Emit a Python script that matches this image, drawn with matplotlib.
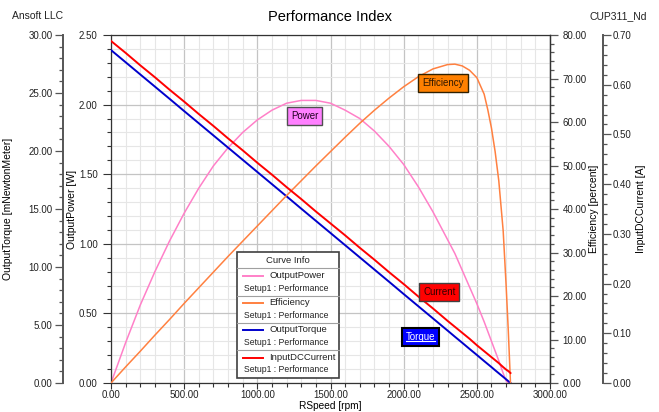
import matplotlib
matplotlib.use('Agg')
import matplotlib.pyplot as plt
from matplotlib.ticker import MultipleLocator, FormatStrFormatter
from matplotlib.patches import Rectangle
from matplotlib.lines import Line2D
from matplotlib.transforms import IdentityTransform

plt.rcParams['font.family'] = ['Liberation Sans', 'DejaVu Sans']
plt.rcParams['font.size'] = 7

# Motor sweep, speed in rpm
rpm = [0, 100, 200, 300, 400, 500, 600, 700, 800, 900, 1000, 1100, 1200,
       1300, 1400, 1500, 1600, 1700, 1800, 1900, 2000, 2100, 2200, 2300,
       2350, 2400, 2450, 2500, 2550, 2575, 2600, 2625, 2650, 2680, 2700,
       2715, 2730]
output_torque = [28.70, 27.65, 26.60, 25.55, 24.50, 23.44, 22.39, 21.34, 20.29,
                 19.24, 18.19, 17.14, 16.09, 15.03, 13.98, 12.93, 11.88, 10.83,
                 9.78, 8.73, 7.67, 6.62, 5.57, 4.52, 3.99, 3.47, 2.94, 2.42,
                 1.89, 1.63, 1.37, 1.10, 0.84, 0.53, 0.32, 0.16, 0.00]
output_power = [0.00, 0.29, 0.56, 0.80, 1.02, 1.22, 1.40, 1.56, 1.69, 1.80,
                1.89, 1.96, 2.01, 2.03, 2.03, 2.01, 1.96, 1.90, 1.81, 1.70,
                1.57, 1.41, 1.23, 1.03, 0.93, 0.81, 0.69, 0.57, 0.44, 0.37,
                0.30, 0.23, 0.16, 0.07, 0.015, 0.00, 0.00]
efficiency = [0.0, 3.7, 7.3, 11.0, 14.6, 18.3, 21.9, 25.5, 29.1, 32.6, 36.1,
              39.6, 43.1, 46.5, 49.9, 53.2, 56.5, 59.7, 62.7, 65.5, 68.1, 70.4,
              72.2, 73.2, 73.3, 72.9, 71.9, 70.2, 66.4, 62.8, 58.6, 53.2, 46.5,
              35.0, 22.5, 12.0, 0.0]
input_current = [0.688, 0.664, 0.639, 0.615, 0.590, 0.566, 0.541, 0.517, 0.492,
                 0.468, 0.443, 0.419, 0.394, 0.370, 0.345, 0.321, 0.297, 0.272,
                 0.248, 0.223, 0.199, 0.174, 0.150, 0.125, 0.113, 0.101, 0.089,
                 0.076, 0.064, 0.058, 0.052, 0.046, 0.040, 0.032, 0.027, 0.024,
                 0.020]

curve_names = ['OutputPower', 'Efficiency', 'OutputTorque', 'InputDCCurrent']
curve_source = 'Setup1 : Performance'

PINK = '#ff80c8'
ORANGE = '#ff8040'
BLUE = '#0000cc'
RED = '#ff0000'
FRAME = '#333333'

W, H = 659, 412
fig = plt.figure(figsize=(W / 100, H / 100), dpi=100)
ax = fig.add_axes([111 / W, 1 - 383 / H, 439 / W, 348 / H])


def ax_frac(px, py):
    """pixel position on the canvas -> axes fraction of the plot area"""
    return (px - 111) / 439, (383 - py) / 348


# main axis: speed vs output power
ax.set_xlim(0, 3000)
ax.set_ylim(0, 2.5)
ax.xaxis.set_major_locator(MultipleLocator(500))
ax.xaxis.set_minor_locator(MultipleLocator(100))
ax.yaxis.set_major_locator(MultipleLocator(0.5))
ax.yaxis.set_minor_locator(MultipleLocator(0.1))
ax.xaxis.set_major_formatter(FormatStrFormatter('%.2f'))
ax.yaxis.set_major_formatter(FormatStrFormatter('%.2f'))
ax.grid(which='major', color='#c4c4c4', lw=0.9)
ax.grid(which='minor', color='#e6e6e6', lw=0.8)
ax.set_axisbelow(True)
ax.tick_params(which='both', direction='out', color=FRAME, width=0.8,
               labelcolor='#222222', labelsize=7)
ax.tick_params(which='major', length=5.5)
ax.tick_params(which='minor', length=3)
ax.tick_params(axis='y', pad=4)
ax.tick_params(axis='x', which='major', length=4.5, pad=0.3)
for s in ax.spines.values():
    s.set_color(FRAME)
    s.set_linewidth(0.9)

# torque axis, offset to the far left
ax_t = ax.twinx()
ax_t.yaxis.tick_left()
ax_t.spines['left'].set_visible(True)
ax_t.spines['left'].set_position(('axes', (63 - 111) / 439))
for s in ['right', 'top', 'bottom']:
    ax_t.spines[s].set_visible(False)
ax_t.set_ylim(0, 30)
ax_t.yaxis.set_major_locator(MultipleLocator(5))
ax_t.yaxis.set_minor_locator(MultipleLocator(1))

# efficiency axis on the right edge of the plot
ax_e = ax.twinx()
for s in ['left', 'top', 'bottom']:
    ax_e.spines[s].set_visible(False)
ax_e.set_ylim(0, 80)
ax_e.yaxis.set_major_locator(MultipleLocator(10))
ax_e.yaxis.set_minor_locator(MultipleLocator(2))

# current axis, offset further right
ax_c = ax.twinx()
ax_c.spines['right'].set_position(('axes', (603 - 111) / 439))
for s in ['left', 'top', 'bottom']:
    ax_c.spines[s].set_visible(False)
ax_c.set_ylim(0, 0.70)
ax_c.yaxis.set_major_locator(MultipleLocator(0.1))
ax_c.yaxis.set_minor_locator(MultipleLocator(0.02))

for a, pad, spine in [(ax_t, 2, 'left'), (ax_e, 3.5, 'right'), (ax_c, 1.5, 'right')]:
    a.yaxis.set_major_formatter(FormatStrFormatter('%.2f'))
    a.tick_params(which='both', direction='out', color='#555555', width=0.9,
                  labelcolor='#222222', labelsize=7, pad=pad)
    a.tick_params(which='major', length=5.5)
    a.tick_params(which='minor', length=3)
    a.spines[spine].set_color('#555555' if a is not ax_e else FRAME)
    a.spines[spine].set_linewidth(1.4 if a is not ax_e else 0.9)

# curves
ax.plot(rpm, output_power, color=PINK, lw=1.1)
ax_e.plot(rpm, efficiency, color=ORANGE, lw=1.1)
ax_t.plot(rpm, output_torque, color=BLUE, lw=1.4)
ax_c.plot(rpm, input_current, color=RED, lw=1.4)

# curve tags
tag_kw = dict(transform=ax.transData, ha='center', va='center', fontsize=7)
ax_c.text(1322, 1.92, 'Power', color='#200020',
          bbox=dict(boxstyle='square,pad=0.4', fc='#ff80ff', ec='#505050', lw=1), **tag_kw)
ax_c.text(2269, 2.157, 'Efficiency', color='#301800',
          bbox=dict(boxstyle='square,pad=0.4', fc='#ff8000', ec='#302000', lw=1), **tag_kw)
ax_c.text(2244, 0.655, 'Current', color='#300000',
          bbox=dict(boxstyle='square,pad=0.4', fc='#ff0000', ec='#404040', lw=1), **tag_kw)
torque_tag = ax_c.text(2116, 0.329, 'Torque', color='white',
                       bbox=dict(boxstyle='square,pad=0.4', fc='#0000ff', ec='black', lw=1.5),
                       **tag_kw)

# curve info box
tr = ax_c.transAxes
x0, y0 = ax_frac(237, 378)
x1, y1 = ax_frac(339, 252)
ax_c.add_patch(Rectangle((x0, y0), x1 - x0, y1 - y0, transform=tr, fc='white',
                         ec='#404040', lw=1.2, clip_on=False, zorder=5))
hx, hy = ax_frac(288, 260)
ax_c.text(hx, hy, 'Curve Info', transform=tr, ha='center', va='center',
          fontsize=6.8, color='#222222', zorder=6)
row_tops = [268.3, 295.7, 322.7, 350.0]
colors = [PINK, ORANGE, BLUE, RED]
for top, name, col in zip(row_tops, curve_names, colors):
    _, sy = ax_frac(0, top)
    ax_c.add_line(Line2D([x0, x1], [sy, sy], transform=tr, color='#a0a0a0',
                         lw=0.8, clip_on=False, zorder=6))
    lx0, ly = ax_frac(243, top + 7.5)
    lx1, _ = ax_frac(263, 0)
    ax_c.add_line(Line2D([lx0, lx1], [ly, ly], transform=tr, color=col,
                         lw=1.4, clip_on=False, zorder=6))
    nx, ny = ax_frac(269, top + 7)
    ax_c.text(nx, ny, name, transform=tr, ha='left', va='center',
              fontsize=6.8, color='#222222', zorder=6)
    sx, sy2 = ax_frac(244, top + 20)
    ax_c.text(sx, sy2, curve_source, transform=tr, ha='left', va='center',
              fontsize=6.2, color='#222222', zorder=6)

# titles and axis labels
fig.text(330 / W, 1 - 17 / H, 'Performance Index', ha='center', va='center', fontsize=10.5)
fig.text(12 / W, 1 - 16 / H, 'Ansoft LLC', ha='left', va='center', fontsize=7.5, color='#222222')
fig.text(647 / W, 1 - 16 / H, 'CUP311_Nd', ha='right', va='center', fontsize=7.5, color='#222222')
fig.text(330 / W, 1 - 401 / H, 'RSpeed [rpm]', ha='center', va='top', fontsize=7.3)
fig.text(8 / W, 1 - 209 / H, 'OutputTorque [mNewtonMeter]', rotation=90,
         ha='center', va='center', fontsize=7.5)
fig.text(72 / W, 1 - 209 / H, 'OutputPower [W]', rotation=90,
         ha='center', va='center', fontsize=7.5)
fig.text(594 / W, 1 - 209 / H, 'Efficiency [percent]', rotation=90,
         ha='center', va='center', fontsize=7.5)
fig.text(641 / W, 1 - 209 / H, 'InputDCCurrent [A]', rotation=90,
         ha='center', va='center', fontsize=7.5)

# underline the torque tag
fig.canvas.draw()
bb = torque_tag.get_window_extent()
fig.add_artist(Line2D([bb.x0, bb.x1], [bb.y0 + 1.5, bb.y0 + 1.5],
                      transform=IdentityTransform(), color='white', lw=0.8))

fig.savefig('out.png', dpi=100)
